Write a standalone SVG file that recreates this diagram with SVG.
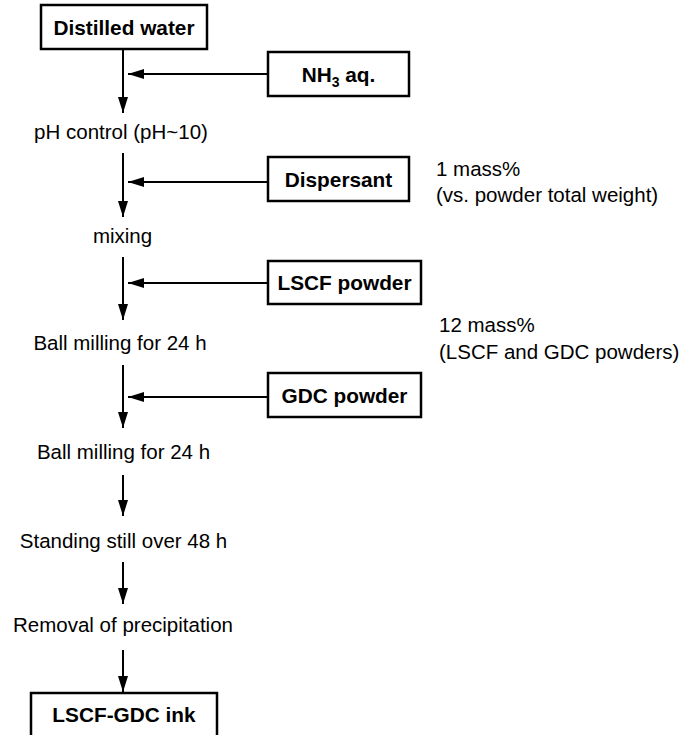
<svg xmlns="http://www.w3.org/2000/svg" width="694" height="735" viewBox="0 0 694 735">
<defs>
<marker id="ah" markerWidth="16" markerHeight="10" refX="16" refY="5" orient="auto" markerUnits="userSpaceOnUse">
<path d="M0,0 L16,5 L0,10 Z" fill="#000"/>
</marker>
<style>
.box{fill:#fff;stroke:#000;stroke-width:2.5}
.b{font-family:"Liberation Sans",Arial,sans-serif;font-weight:bold;font-size:20.8px;fill:#000;text-anchor:middle}
.t{font-family:"Liberation Sans",Arial,sans-serif;font-size:20.5px;fill:#000;text-anchor:middle}
.n{font-family:"Liberation Sans",Arial,sans-serif;font-size:20.5px;fill:#000}
.c{stroke:#000;stroke-width:2;fill:none}
</style>
</defs>
<rect width="694" height="735" fill="#fff"/>
<g id="connectors">
<line class="c" x1="123" y1="49" x2="123" y2="113" marker-end="url(#ah)"/>
<line class="c" x1="268" y1="74" x2="128" y2="74" marker-end="url(#ah)"/>
<line class="c" x1="123" y1="153" x2="123" y2="217" marker-end="url(#ah)"/>
<line class="c" x1="268" y1="182" x2="128" y2="182" marker-end="url(#ah)"/>
<line class="c" x1="123" y1="257" x2="123" y2="320" marker-end="url(#ah)"/>
<line class="c" x1="268" y1="283" x2="128" y2="283" marker-end="url(#ah)"/>
<line class="c" x1="123" y1="365" x2="123" y2="428" marker-end="url(#ah)"/>
<line class="c" x1="268" y1="397" x2="128" y2="397" marker-end="url(#ah)"/>
<line class="c" x1="123" y1="475" x2="123" y2="516" marker-end="url(#ah)"/>
<line class="c" x1="123" y1="562" x2="123" y2="604" marker-end="url(#ah)"/>
<line class="c" x1="123" y1="650" x2="123" y2="692" marker-end="url(#ah)"/>
</g>
<g id="distilled-water">
<rect class="box" x="41" y="5" width="166" height="44"/>
<text class="b" x="124" y="35">Distilled water</text>
</g>
<g id="nh3">
<rect class="box" x="268" y="52" width="141" height="44"/>
<text class="b" x="338.5" y="82">NH<tspan font-size="14" dy="5">3</tspan><tspan dy="-5"> aq.</tspan></text>
</g>
<g id="ph-control">
<text class="t" x="121" y="139">pH control (pH~10)</text>
</g>
<g id="dispersant">
<rect class="box" x="268" y="157" width="141" height="44"/>
<text class="b" x="338.5" y="187">Dispersant</text>
</g>
<g id="note-dispersant">
<text class="n" x="436" y="176">1 mass%</text>
<text class="n" x="436" y="202">(vs. powder total weight)</text>
</g>
<g id="mixing">
<text class="t" x="122.5" y="243">mixing</text>
</g>
<g id="lscf-powder">
<rect class="box" x="268" y="261" width="153" height="43"/>
<text class="b" x="344.5" y="290">LSCF powder</text>
</g>
<g id="ball-milling-1">
<text class="t" x="120" y="350">Ball milling for 24 h</text>
</g>
<g id="note-powders">
<text class="n" x="439" y="332">12 mass%</text>
<text class="n" x="439" y="359">(LSCF and GDC powders)</text>
</g>
<g id="gdc-powder">
<rect class="box" x="268" y="373" width="153" height="44"/>
<text class="b" x="344.5" y="403">GDC powder</text>
</g>
<g id="ball-milling-2">
<text class="t" x="123.5" y="459">Ball milling for 24 h</text>
</g>
<g id="standing">
<text class="t" x="123.5" y="548">Standing still over 48 h</text>
</g>
<g id="removal">
<text class="t" x="123" y="632">Removal of precipitation</text>
</g>
<g id="ink">
<rect class="box" x="31" y="693" width="186" height="50"/>
<text class="b" x="124" y="722">LSCF-GDC ink</text>
</g>
</svg>
